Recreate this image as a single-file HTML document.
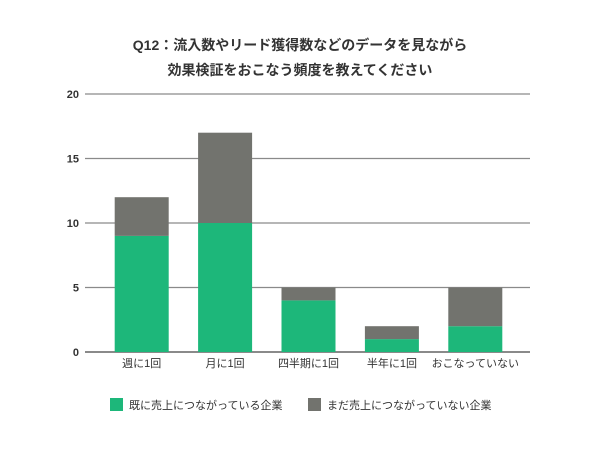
<!DOCTYPE html>
<html><head><meta charset="utf-8"><style>
body{margin:0;background:#fff;font-family:"Liberation Sans","Noto Sans CJK JP",sans-serif;}
</style></head><body>
<svg id="c" width="600" height="444" xmlns="http://www.w3.org/2000/svg">
<text x="300" y="50" text-anchor="middle" font-size="14" font-weight="bold" fill="#333">Q12：流入数やリード獲得数などのデータを見ながら</text>
<text x="300" y="75" text-anchor="middle" font-size="14" font-weight="bold" fill="#333">効果検証をおこなう頻度を教えてください</text>
<g id="grid"></g><g id="bars"></g><g id="labels"></g>
<rect x="110" y="398" width="13" height="13" fill="#1db77a"/>
<text x="129" y="409" font-size="11" fill="#333">既に売上につながっている企業</text>
<rect x="308" y="398" width="13" height="13" fill="#72736e"/>
<text x="327" y="409" font-size="11" fill="#333">まだ売上につながっていない企業</text>
</svg>
<script>
const categories=["週に1回","月に1回","四半期に1回","半年に1回","おこなっていない"];
const connected=[9,10,4,1,2];
const notConnected=[3,7,1,1,3];
const ticks=[0,5,10,15,20];
const NS="http://www.w3.org/2000/svg";
const x0=85,x1=530,yTop=94,yBot=352,maxV=20;
const y=v=>yBot-(v/maxV)*(yBot-yTop);
const plotL=100,plotR=517;
const band=(plotR-plotL)/categories.length;
const cx=i=>plotL+band*(i+0.5);
const bw=54;
function mk(t,a,p){const e=document.createElementNS(NS,t);for(const k in a)e.setAttribute(k,a[k]);p.appendChild(e);return e;}
const g=document.getElementById('grid');
ticks.forEach(t=>{
 const l=mk('line',{x1:x0,x2:x1,y1:y(t),y2:y(t),stroke:t===0?'#444':'#8a8a8a','stroke-width':1.2},g);
 
 
 const tx=mk('text',{x:79,y:y(t)+4,'text-anchor':'end','font-size':11,'font-weight':'bold',fill:'#333'},g);
 tx.textContent=t;
 
 
});
const b=document.getElementById('bars'),lb=document.getElementById('labels');
categories.forEach((c,i)=>{
 const r1=mk('rect',{x:cx(i)-bw/2,y:y(connected[i]),width:bw,height:y(0)-y(connected[i]),fill:'#1db77a'},b);
 
 
 const tot=connected[i]+notConnected[i];
 const r2=mk('rect',{x:cx(i)-bw/2,y:y(tot),width:bw,height:y(connected[i])-y(tot),fill:'#72736e'},b);
 
 
 const t=mk('text',{x:cx(i),y:367,'text-anchor':'middle','font-size':11,fill:'#333'},lb);
 t.textContent=c;
 
 
});
</script>
</body></html>
